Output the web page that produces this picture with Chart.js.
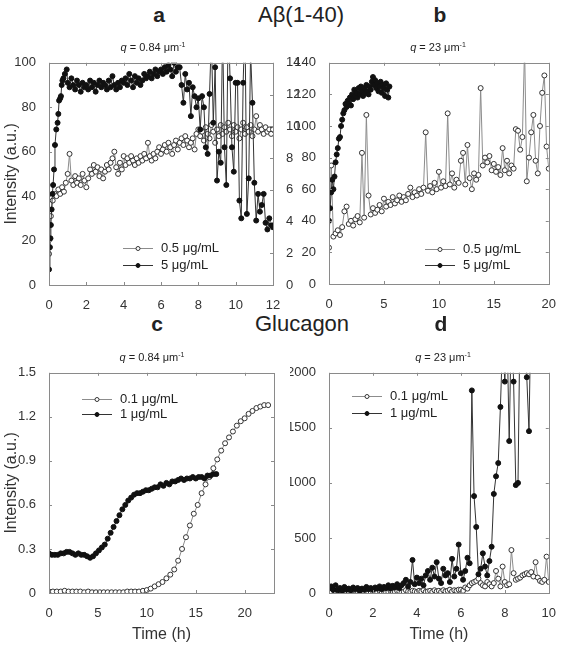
<!DOCTYPE html>
<html>
<head>
<meta charset="utf-8">
<script src="https://cdn.jsdelivr.net/npm/chart.js@4.4.0/dist/chart.umd.min.js"></script>
<style>
body { margin: 0; background: #fff; font-family: "Liberation Sans", Arial, sans-serif; }
#fig { position: relative; width: 561px; height: 647px; overflow: hidden; }
canvas { position: absolute; }
.t { position: absolute; color: #222; white-space: nowrap; transform: translate(-50%, -50%); }
.letter { font-weight: bold; font-size: 21px; }
.big { font-size: 22px; }
.q { font-size: 11px; }
.q sup { font-size: 7px; }
</style>
</head>
<body>
<div id="fig">
  <canvas id="ca" width="300" height="260" style="left:0;top:50px"></canvas>
  <canvas id="cb" width="271" height="260" style="left:290px;top:50px"></canvas>
  <canvas id="cc" width="290" height="287" style="left:0;top:360px"></canvas>
  <canvas id="cd" width="271" height="287" style="left:290px;top:360px"></canvas>

  <div class="t letter" style="left:159px;top:15px">a</div>
  <div class="t big" style="left:301px;top:15px">Aβ(1-40)</div>
  <div class="t letter" style="left:440px;top:15px">b</div>
  <div class="t q" style="left:153px;top:47px"><i>q</i> = 0.84 μm<sup>-1</sup></div>
  <div class="t q" style="left:438px;top:47px"><i>q</i> = 23 μm<sup>-1</sup></div>

  <div class="t letter" style="left:157px;top:324px">c</div>
  <div class="t big" style="left:302px;top:324px">Glucagon</div>
  <div class="t letter" style="left:441px;top:324px">d</div>
  <div class="t q" style="left:152px;top:357px"><i>q</i> = 0.84 μm<sup>-1</sup></div>
  <div class="t q" style="left:443px;top:357px"><i>q</i> = 23 μm<sup>-1</sup></div>
</div>

<script>
// sample times helper (measurements taken at a fixed interval)
const seq = (start, step, n) => Array.from({ length: n }, (_, i) => +(start + i * step).toFixed(3));
const pts = (ts, vs) => vs.map((v, i) => ({ x: ts[i], y: v }));

// ---- panel a : Abeta(1-40), q = 0.84 ----
const aLabels = ['0.5 μg/mL', '5 μg/mL'];
const aOpen = [14,31,38,41,40,43,41,44,42,46,
  50,59,47,45,49,46,48,45,50,47,
  44,48,52,50,54,51,53,49,52,48,
  51,54,52,55,57,60,53,50,55,52,
  58,54,57,55,58,56,54,57,55,58,
  56,59,57,64,58,56,59,57,60,62,
  59,61,63,60,64,62,59,63,65,61,
  64,66,63,67,65,62,64,66,61,68,
  70,67,69,65,71,68,66,72,69,64,
  70,67,72,68,71,69,73,70,67,72,
  69,71,66,70,73,68,71,69,72,67,
  70,76,69,72,70,68,71,69,70,68,
  70];
const aOpenTime = seq(0, 0.1, 121);
const aFilledEarlyTime = [0,0.05,0.08,0.1,0.14,0.18,0.22,0.27,0.32,0.39,0.46,0.5,0.54,0.6,0.64,0.68,0.72,0.77,0.85,0.95];
const aFilledEarly = [7,17,21,27,34,41,45,52,63,70,73,77,83,84,85,90,92,93,95,97];
const aFilledLate = [91,89,93,90,88,92,90,87,91,89,
  90,88,92,89,91,87,90,92,89,91,
  90,88,92,89,94,90,88,91,89,92,
  91,93,90,95,92,89,94,91,93,90,
  92,95,93,94,96,93,95,97,94,96,
  97,95,98,96,99,97,94,100,96,98,
  98,90,82,95,88,91,76,89,85,80,
  84,70,85,80,62,59,86,112,73,98,
  47,60,55,115,62,45,120,93,62,51,
  91,91,38,30,91,118,32,48,105,82,
  46,29,41,33,36,41,28,25,30,27,
  26];
const aFilledTime = aFilledEarlyTime.concat(seq(1.0, 0.1, 111));
const aFilled = aFilledEarly.concat(aFilledLate);

// ---- panel b : Abeta(1-40), q = 23 ----
const bLabels = ['0.5 μg/mL', '5 μg/mL'];
const bOpen = [23,75,30,32,34,31,36,46,49,38,
  40,37,41,43,39,83,42,107,56,44,
  48,45,47,50,46,54,49,52,50,55,
  51,53,56,52,55,53,57,61,55,58,
  56,60,57,61,96,59,62,58,64,60,
  71,61,65,62,108,63,70,61,66,64,
  78,83,63,88,67,60,70,66,69,124,
  75,80,77,81,72,76,71,74,69,86,
  72,78,70,75,73,98,97,85,93,150,
  65,80,96,107,78,70,100,121,132,87,
  73];
const bOpenTime = seq(0, 0.2, 101);
const bFilled = [40,48,58,66,60,68,77,82,86,92,
  93,100,104,108,110,114,112,116,114,118,
  113,120,117,123,119,121,118,124,120,125,
  122,119,124,121,126,122,120,125,123,128,
  131,126,129,124,127,122,125,128,121,126,
  124,119,127,123,118,125];
const bFilledTime = seq(0, 0.1, 56);

// ---- panel c : Glucagon, q = 0.84 ----
const cLabels = ['0.1 μg/mL', '1 μg/mL'];
const cOpen = [0.01,0.01,0.01,0.01,0.015,0.01,0.01,0.01,0.01,0.005,
  0.01,0.005,0.005,0.005,0.005,0.005,0.005,0.005,0.005,0.005,
  0.01,0.01,0.01,0.01,0.015,0.02,0.03,0.045,0.06,0.075,
  0.1,0.125,0.16,0.22,0.3,0.38,0.46,0.54,0.6,0.68,
  0.74,0.79,0.85,0.91,0.97,1.02,1.06,1.1,1.14,1.17,
  1.19,1.22,1.24,1.26,1.27,1.28,1.28];
const cOpenTime = seq(0, 0.4, 57);
const cFilled = [0.27,0.26,0.26,0.26,0.27,0.27,0.28,0.28,0.27,0.26,
  0.27,0.26,0.26,0.25,0.24,0.25,0.27,0.29,0.31,0.33,
  0.37,0.41,0.45,0.49,0.53,0.57,0.6,0.63,0.65,0.67,
  0.68,0.68,0.69,0.7,0.7,0.71,0.72,0.72,0.74,0.73,
  0.75,0.74,0.76,0.76,0.77,0.78,0.77,0.78,0.78,0.79,
  0.78,0.79,0.79,0.78,0.8,0.8,0.81,0.81];
const cFilledTime = seq(0, 0.3, 58);

// ---- panel d : Glucagon, q = 23 ----
const dLabels = ['0.1 μg/mL', '1 μg/mL'];
const dOpen = [20,10,25,15,5,20,10,15,5,10,
  15,5,20,10,5,15,10,20,5,10,
  15,10,5,20,10,15,5,10,20,15,
  10,20,15,5,10,25,15,10,20,15,
  10,20,15,25,10,15,20,10,25,15,
  20,10,25,15,20,30,15,25,20,30,
  30,20,50,40,70,90,100,110,130,90,
  70,60,100,80,60,90,200,130,60,240,
  100,70,80,390,180,120,130,140,160,170,
  180,170,190,150,280,140,110,100,120,330,
  100];
const dFilled = [40,60,30,70,25,45,20,55,30,40,
  25,50,35,45,20,40,30,55,35,45,
  30,50,40,60,35,55,45,70,40,65,
  50,80,45,70,90,120,60,100,300,80,
  140,90,130,70,160,200,120,230,150,280,
  130,90,220,160,180,100,310,150,220,440,
  180,120,200,320,270,1840,880,600,170,220,
  360,240,160,290,420,900,1060,1180,1690,2300,
  1920,2400,1380,2500,1920,980,1000,2600,2800,2500,
  1960,1470,2700,2900,3100,2800,3000,3200,2900,3100,
  3300];
const dTime = seq(0, 0.1, 101);

const FONT = '"Liberation Sans", Arial, sans-serif';
const tickFont = { family: FONT, size: 13 };

// box around the plot area with small inward tick marks
const frame = {
  id: 'frame',
  afterDraw(chart) {
    const { ctx, chartArea: a, scales } = chart;
    ctx.save();
    ctx.strokeStyle = '#8a8a8a';
    ctx.lineWidth = 1;
    ctx.strokeRect(Math.round(a.left) + 0.5, Math.round(a.top) + 0.5,
      Math.round(a.right - a.left), Math.round(a.bottom - a.top));
    const seg = (x1, y1, x2, y2) => { ctx.beginPath(); ctx.moveTo(x1, y1); ctx.lineTo(x2, y2); ctx.stroke(); };
    scales.x.ticks.forEach(t => {
      const px = Math.round(scales.x.getPixelForValue(t.value)) + 0.5;
      seg(px, a.bottom, px, a.bottom - 3);
      seg(px, a.top, px, a.top + 3);
    });
    const left = scales.y, right = scales.y1 || scales.y;
    left.ticks.forEach(t => {
      const py = Math.round(left.getPixelForValue(t.value)) + 0.5;
      seg(a.left, py, a.left + 3, py);
    });
    right.ticks.forEach(t => {
      const py = Math.round(right.getPixelForValue(t.value)) + 0.5;
      seg(a.right, py, a.right - 3, py);
    });
    ctx.restore();
  }
};

// legend drawn inside the plot area
const miniLegend = {
  id: 'miniLegend',
  afterDraw(chart, args, o) {
    const { ctx, chartArea: a } = chart;
    ctx.save();
    o.rows.forEach((r, i) => {
      const ds = chart.data.datasets[r];
      const y = Math.round(a.top + o.y[i]) + 0.5;
      const x1 = a.left + o.x1, x2 = a.left + o.x2;
      ctx.strokeStyle = ds.borderColor;
      ctx.lineWidth = 1;
      ctx.beginPath(); ctx.moveTo(x1, y); ctx.lineTo(x2, y); ctx.stroke();
      ctx.beginPath();
      ctx.arc((x1 + x2) / 2, y, 2, 0, Math.PI * 2);
      ctx.fillStyle = ds.pointBackgroundColor;
      ctx.fill();
      ctx.strokeStyle = ds.pointBorderColor;
      ctx.stroke();
      ctx.fillStyle = '#222';
      ctx.font = '13px ' + FONT;
      ctx.textBaseline = 'middle';
      ctx.fillText(ds.label, x2 + 8, y);
    });
    ctx.restore();
  }
};

const openSet = (label, data, yAxisID) => ({
  label, data, yAxisID: yAxisID || 'y',
  borderColor: '#8c8c8c', borderWidth: 1,
  pointBackgroundColor: '#fff', pointBorderColor: '#333',
  pointRadius: 2.5, pointBorderWidth: 1, order: 2
});
const filledSet = (label, data, yAxisID) => ({
  label, data, yAxisID: yAxisID || 'y',
  borderColor: '#333', borderWidth: 1,
  pointBackgroundColor: '#111', pointBorderColor: '#111',
  pointRadius: 2.5, pointBorderWidth: 1, order: 1
});

const axis = (min, max, step, size, extra) => Object.assign({
  type: 'linear', min, max,
  grid: { display: false }, border: { display: false },
  ticks: { stepSize: step, includeBounds: false, font: tickFont, color: '#333', padding: 5, maxRotation: 0,
    callback: v => String(v) }
}, extra, { afterFit: s => { if (s.isHorizontal()) s.height = size; else s.width = size; } });

const yTitle = { display: true, text: 'Intensity (a.u.)', color: '#333', font: { family: FONT, size: 16 }, padding: { top: 2, bottom: 0 } };
const xTitle = { display: true, text: 'Time (h)', color: '#333', font: { family: FONT, size: 16 }, padding: { top: 0, bottom: 3 } };

function makePanel(id, datasets, scales, pad, legend) {
  return new Chart(document.getElementById(id), {
    type: 'line',
    data: { datasets },
    options: {
      responsive: false,
      animation: false,
      events: [],
      layout: { autoPadding: false, padding: pad },
      scales,
      plugins: { legend: { display: false }, tooltip: { enabled: false }, miniLegend: legend }
    },
    plugins: [frame, miniLegend]
  });
}

makePanel('ca',
  [openSet(aLabels[0], pts(aOpenTime, aOpen)), filledSet(aLabels[1], pts(aFilledTime, aFilled))],
  {
    x: axis(0, 12, 2, 25),
    y: axis(0, 100, 20, 49, { title: yTitle }),
    y1: axis(0, 14, 2, 27, { position: 'right' })
  },
  { left: 0, right: 0, top: 10, bottom: 0 },
  { rows: [0, 1], x1: 74, x2: 104, y: [185, 202] });

makePanel('cb',
  [openSet(bLabels[0], pts(bOpenTime, bOpen)), filledSet(bLabels[1], pts(bFilledTime, bFilled))],
  {
    x: axis(0, 20, 5, 26),
    y: axis(0, 140, 20, 39)
  },
  { left: 0, right: 8, top: 11, bottom: 0 },
  { rows: [0, 1], x1: 96, x2: 126, y: [186, 202] });

makePanel('cc',
  [openSet(cLabels[0], pts(cOpenTime, cOpen)), filledSet(cLabels[1], pts(cFilledTime, cFilled))],
  {
    x: axis(0, 23, 5, 54, { title: xTitle }),
    y: axis(0, 1.5, 0.3, 49, { title: yTitle })
  },
  { left: 0, right: 16, top: 12, bottom: 0 },
  { rows: [0, 1], x1: 33, x2: 63, y: [26, 41] });

makePanel('cd',
  [openSet(dLabels[0], pts(dTime, dOpen)), filledSet(dLabels[1], pts(dTime, dFilled))],
  {
    x: axis(0, 10, 2, 54, { title: xTitle }),
    y: axis(0, 2000, 500, 39)
  },
  { left: 0, right: 8, top: 11, bottom: 0 },
  { rows: [0, 1], x1: 23, x2: 53, y: [23, 40] });
</script>
</body>
</html>
